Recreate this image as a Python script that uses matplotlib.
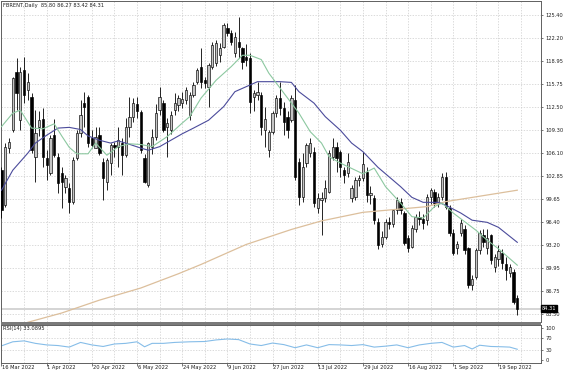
import matplotlib
matplotlib.use("Agg")
import matplotlib.pyplot as plt
from matplotlib.patches import Rectangle

# ---------------- data ----------------
title_text = "FBRENT,Daily  85.80 86.27 83.42 84.31"
rsi_text = "RSI(14) 33.0895"
last_price = 84.31

opens = [103.7, 98.8, 106.8, 109.3, 117.4, 110.7, 117.7, 114.9, 114.0, 105.5,
         109.8, 110.9, 105.4, 103.3, 108.6, 105.6, 103.3, 101.4, 101.2, 99.3,
         105.4, 108.9, 113.1, 114.0, 108.2, 106.8, 108.6, 104.9, 102.1, 104.7,
         107.3, 107.0, 107.5, 105.8, 109.8, 111.2, 113.0, 111.8, 105.4, 101.6,
         107.0, 108.4, 112.1, 113.1, 109.8, 109.3, 112.1, 112.8, 113.1, 113.5,
         111.4, 114.2, 116.1, 118.2, 116.3, 115.4, 118.2, 118.7, 119.8, 121.0,
         123.6, 122.9, 120.1, 121.7, 120.8, 119.6, 119.4, 114.0, 114.2, 114.2,
         109.3, 106.5, 109.1, 111.7, 113.8, 112.4, 111.2, 110.7, 113.5, 104.9,
         100.0, 104.7, 106.1, 106.3, 98.4, 99.5, 99.8, 100.7, 105.6, 107.0,
         106.3, 103.7, 103.3, 99.8, 100.0, 102.3, 102.6, 103.5, 100.2, 99.8,
         96.5, 93.4, 94.4, 96.5, 96.2, 98.1, 99.3, 97.7, 94.2, 93.0,
         95.5, 97.2, 96.8, 96.7, 100.0, 100.7, 99.1, 100.0, 102.8, 98.4,
         94.9, 92.8, 94.9, 95.4, 92.8, 87.6, 88.8, 92.5, 94.6, 92.8,
         94.6, 90.2, 91.3, 92.1, 90.6, 89.3, 89.5, 85.80]
highs = [104.2, 107.5, 108.2, 116.8, 119.4, 118.2, 119.6, 117.3, 114.5, 112.1,
         112.0, 112.4, 106.5, 108.6, 110.9, 106.1, 104.2, 103.0, 101.9, 105.6,
         109.3, 113.5, 114.7, 114.3, 109.3, 109.8, 109.8, 105.4, 105.4, 107.5,
         107.7, 109.8, 108.2, 111.0, 114.0, 113.8, 114.0, 112.1, 106.0, 107.7,
         109.5, 113.0, 115.4, 113.5, 111.0, 112.0, 114.5, 114.3, 114.7, 115.4,
         114.6, 116.1, 118.0, 120.8, 116.8, 118.7, 121.6, 122.0, 121.5, 124.3,
         124.3, 123.3, 123.0, 125.2, 121.0, 121.4, 120.1, 115.0, 116.1, 114.7,
         112.6, 109.3, 112.0, 114.3, 116.1, 113.3, 112.0, 114.3, 115.6, 105.4,
         106.1, 107.5, 108.2, 107.0, 100.5, 100.7, 102.3, 106.5, 108.2, 107.7,
         106.5, 104.2, 106.1, 101.6, 102.8, 103.0, 106.3, 104.2, 101.5, 100.2,
         97.0, 95.2, 96.8, 97.2, 98.3, 100.0, 99.8, 98.0, 94.6, 96.0,
         97.5, 98.0, 97.5, 100.3, 101.2, 101.0, 100.5, 103.3, 103.4, 98.8,
         95.5, 93.8, 96.8, 96.0, 93.0, 89.0, 92.8, 95.3, 95.5, 95.5,
         94.8, 92.0, 93.2, 92.6, 91.5, 90.6, 89.9, 86.27]
lows = [97.0, 98.6, 106.1, 109.1, 112.1, 109.3, 113.1, 113.5, 106.1, 102.0,
        108.5, 104.2, 102.3, 103.0, 105.6, 100.5, 98.4, 100.5, 97.7, 99.0,
        105.1, 108.4, 109.8, 107.0, 106.8, 106.8, 105.8, 99.5, 100.9, 103.0,
        105.6, 104.2, 103.0, 105.6, 108.4, 110.5, 111.0, 106.1, 101.9, 101.3,
        106.0, 108.0, 111.5, 109.0, 105.6, 108.8, 111.5, 112.0, 112.4, 113.0,
        110.7, 114.0, 115.8, 115.2, 115.2, 112.6, 117.9, 118.3, 118.9, 120.8,
        122.5, 121.2, 119.6, 119.4, 117.9, 118.3, 111.7, 112.0, 113.5, 108.6,
        107.0, 105.6, 108.8, 111.2, 111.5, 108.6, 108.2, 110.5, 102.3, 98.8,
        99.3, 104.2, 105.6, 98.6, 97.7, 94.6, 99.3, 100.5, 105.1, 103.5,
        102.8, 101.9, 102.8, 99.3, 99.5, 101.5, 102.2, 99.3, 99.0, 96.2,
        92.7, 92.9, 94.0, 95.5, 95.8, 97.5, 97.6, 93.2, 92.2, 92.8,
        95.0, 96.0, 95.5, 96.0, 99.0, 98.5, 98.5, 99.5, 98.2, 94.5,
        91.8, 92.0, 94.5, 92.0, 87.2, 86.9, 88.5, 92.0, 93.0, 92.0,
        90.5, 89.5, 90.3, 89.8, 88.3, 88.8, 84.9, 83.42]
closes = [98.1, 107.0, 107.7, 116.6, 114.5, 117.5, 114.2, 116.1, 106.5, 108.9,
          110.7, 105.6, 104.4, 108.2, 105.8, 101.9, 102.0, 102.6, 99.3, 105.1,
          108.9, 111.4, 112.6, 107.5, 107.3, 108.4, 106.1, 102.6, 105.1, 107.3,
          106.9, 107.9, 105.8, 109.8, 111.2, 113.1, 112.0, 106.5, 102.1, 107.5,
          108.4, 111.7, 114.0, 109.3, 110.3, 111.4, 113.1, 113.8, 113.7, 114.9,
          114.2, 115.6, 117.7, 116.1, 115.9, 118.4, 121.2, 121.5, 120.8, 124.0,
          122.9, 121.7, 122.4, 121.0, 118.9, 119.1, 113.3, 114.5, 114.7, 109.8,
          110.9, 109.1, 111.7, 113.8, 112.4, 110.5, 109.3, 113.8, 102.8, 100.0,
          104.2, 107.2, 107.5, 99.1, 99.8, 99.8, 101.2, 106.1, 107.0, 105.4,
          104.2, 103.0, 104.9, 101.2, 102.3, 102.6, 104.5, 100.2, 100.5, 96.7,
          93.2, 94.4, 96.5, 96.2, 98.1, 99.5, 98.1, 93.5, 92.8, 95.6,
          97.2, 96.8, 96.3, 100.0, 100.9, 99.1, 100.0, 102.8, 98.6, 94.9,
          92.1, 93.4, 96.3, 92.5, 87.6, 88.5, 92.5, 94.9, 93.7, 94.2,
          91.1, 91.6, 92.4, 90.7, 89.7, 90.2, 85.3, 84.31]

# moving averages (bar index, value)
ma_fast_idx = [0, 3, 5, 8, 11, 14, 16, 18, 20, 23, 25, 28, 31, 34, 37, 40, 44, 48,
               50, 53, 57, 61, 64, 66, 69, 71, 74, 77, 79, 82, 85, 87, 90, 92, 96,
               99, 102, 106, 109, 112, 115, 117, 120, 123, 126, 129, 132, 137]
ma_fast_val = [109.8, 111.7, 112.1, 109.6, 109.5, 110.2, 108.5, 106.9, 106.0, 106.0,
               107.5, 105.8, 107.0, 107.4, 107.3, 107.0, 108.4, 110.3,
               111.2, 113.8, 116.3, 118.2, 119.8, 119.8, 119.2, 117.3, 115.2, 113.1,
               111.7, 109.1, 107.5, 105.6, 104.7, 104.2, 103.2,
               104.0, 101.4, 99.1, 97.2, 97.0, 98.6, 99.1, 97.7, 96.5, 95.3, 93.9,
               92.7, 90.4]
ma_mid_idx = [0, 3, 7, 9, 12, 15, 18, 21, 23, 26, 29, 31, 33, 37, 39, 42, 45, 48,
              51, 55, 59, 62, 65, 68, 74, 77, 79, 83, 86, 90, 93, 96, 100, 106,
              109, 112, 116, 118, 122, 125, 129, 132, 137]
ma_mid_val = [100.9, 103.7, 106.1, 107.5, 108.6, 109.6, 109.7, 109.4, 108.5, 107.9,
              107.5, 107.8, 107.5, 106.8, 106.5, 107.0, 107.9, 108.8,
              109.6, 110.7, 112.6, 114.7, 115.4, 116.1, 116.1, 116.0, 114.7, 113.1,
              111.2, 109.3, 107.5, 106.3, 104.1, 101.4,
              99.9, 99.2, 99.2, 98.8, 97.7, 96.7, 96.4, 95.7, 93.6]
ma_slow_idx = [7, 16, 26, 37, 47, 53, 65, 77, 85, 96, 113, 118, 137]
ma_slow_val = [82.4, 83.7, 85.5, 87.2, 89.2, 90.5, 93.3, 95.4, 96.6, 97.8, 98.6, 99.3, 100.9]

rsi_idx = [0, 3, 6, 9, 12, 15, 18, 21, 24, 27, 30, 33, 36, 38, 40, 43, 46, 50, 54,
           57, 60, 63, 66, 69, 72, 75, 78, 81, 84, 87, 90, 93, 96, 99, 102, 105,
           108, 111, 114, 117, 120, 123, 125, 127, 130, 133, 135, 137]
rsi_val = [44, 57, 60, 52, 47, 45, 40, 55, 47, 42, 50, 52, 57, 41, 52, 52, 55, 57, 58,
           63, 66, 64, 50, 45, 53, 48, 38, 47, 38, 48, 47, 45, 48, 40, 43, 47,
           38, 47, 52, 55, 40, 45, 34, 46, 42, 41, 40, 33.09]

price_ticks = [125.40, 122.20, 118.95, 115.75, 112.50, 109.30, 106.10, 102.85,
               99.65, 96.40, 93.20, 89.95, 86.75, 83.50]
date_label_idx = [0, 12, 24, 36, 48, 60, 72, 84, 96, 108, 120, 132]
date_labels = ["16 Mar 2022", "1 Apr 2022", "20 Apr 2022", "6 May 2022",
               "24 May 2022", "9 Jun 2022", "27 Jun 2022", "13 Jul 2022",
               "29 Jul 2022", "16 Aug 2022", "1 Sep 2022", "19 Sep 2022"]
rsi_ticks = [100, 70, 30, 0]

# ---------------- figure ----------------
W, H = 564, 376
fig = plt.figure(figsize=(W / 100, H / 100), dpi=100)
plt.rcParams['font.family'] = ['DejaVu Sans']
FS = 3.7

def px_axes(x0, y0, x1, y1):
    return fig.add_axes([x0 / W, 1 - y1 / H, (x1 - x0) / W, (y1 - y0) / H])

ax = px_axes(1, 1, 541, 322)
rax = px_axes(1, 324.5, 541, 362.5)
# separator band between panels
fig.patches.append(Rectangle((1 / W, 1 - 324.5 / H), 540 / W, 2.5 / H,
                             transform=fig.transFigure, fc='#7a7a7a', ec='none'))

n = len(closes)
xmin, xmax = -0.13, 143.3
grid_kw = dict(color='#cccccc', lw=0.5, ls=(0, (2, 2)), zorder=0)

# main panel
ax.set_xlim(xmin, xmax)
ax.set_ylim(82.44, 127.40)
for t in price_ticks:
    ax.axhline(t, **grid_kw)
for gx in range(6, 144, 6):
    ax.axvline(gx, **grid_kw)
    rax.axvline(gx, **grid_kw)

ax.axhline(last_price, color='#d4d4d4', lw=1.4, zorder=1)

bw = 0.62
for i in range(n):
    o, h, l, c = opens[i], highs[i], lows[i], closes[i]
    ax.vlines(i, l, h, color='black', lw=0.6, zorder=3)
    bottom = min(o, c)
    height = max(abs(c - o), 0.08)
    fc = '#c4c4c4' if c >= o else 'black'
    ax.add_patch(Rectangle((i - bw / 2, bottom), bw, height, facecolor=fc,
                           edgecolor='black', lw=0.45, zorder=4))

ax.plot(ma_slow_idx, ma_slow_val, color='#dcbf9c', lw=0.9, zorder=5)
ax.plot(ma_mid_idx, ma_mid_val, color='#4b4b9b', lw=0.8, zorder=5)
ax.plot(ma_fast_idx, ma_fast_val, color='#8cc8a0', lw=0.8, zorder=5)

ax.yaxis.tick_right()
ax.set_yticks(price_ticks)
ax.set_yticklabels([f"{t:.2f}" for t in price_ticks], fontsize=FS, color='#202020')
ax.tick_params(axis='y', length=1.5, width=0.5, pad=1.5, colors='#404040',
               labelcolor='#202020')
ax.set_xticks([])
for s in ax.spines.values():
    s.set_color('#606060')
    s.set_linewidth(0.7)

ax.text(0.004, 0.994, title_text, transform=ax.transAxes, fontsize=FS,
        va='top', ha='left', color='#202020')
ax.text(xmax + 0.25, last_price, f"{last_price:.2f}", fontsize=FS, color='white',
        va='center', ha='left', zorder=10, clip_on=False,
        bbox=dict(boxstyle='square,pad=0.15', fc='black', ec='black'))

# RSI panel
rax.set_xlim(xmin, xmax)
rax.set_ylim(-9.4, 112.5)
rax.axhline(70, **grid_kw)
rax.axhline(30, **grid_kw)
rax.plot(rsi_idx, rsi_val, color='#86bde8', lw=0.8)
rax.yaxis.tick_right()
rax.set_yticks(rsi_ticks)
rax.set_yticklabels([str(t) for t in rsi_ticks], fontsize=FS, color='#202020')
rax.tick_params(axis='y', length=1.5, width=0.5, pad=1.5, colors='#404040',
                labelcolor='#202020')
rax.set_xticks(date_label_idx)
rax.set_xticklabels([])
rax.tick_params(axis='x', length=2, width=0.5, colors='#404040')
for s in rax.spines.values():
    s.set_color('#606060')
    s.set_linewidth(0.7)
rax.text(0.004, 0.97, rsi_text, transform=rax.transAxes, fontsize=FS,
         va='top', ha='left', color='#202020')
for xi, lab in zip(date_label_idx, date_labels):
    rax.text(xi + 0.2, -16, lab, fontsize=FS, va='top', ha='left', color='#202020',
             clip_on=False)

fig.savefig("out.png", dpi=100, facecolor='white')
